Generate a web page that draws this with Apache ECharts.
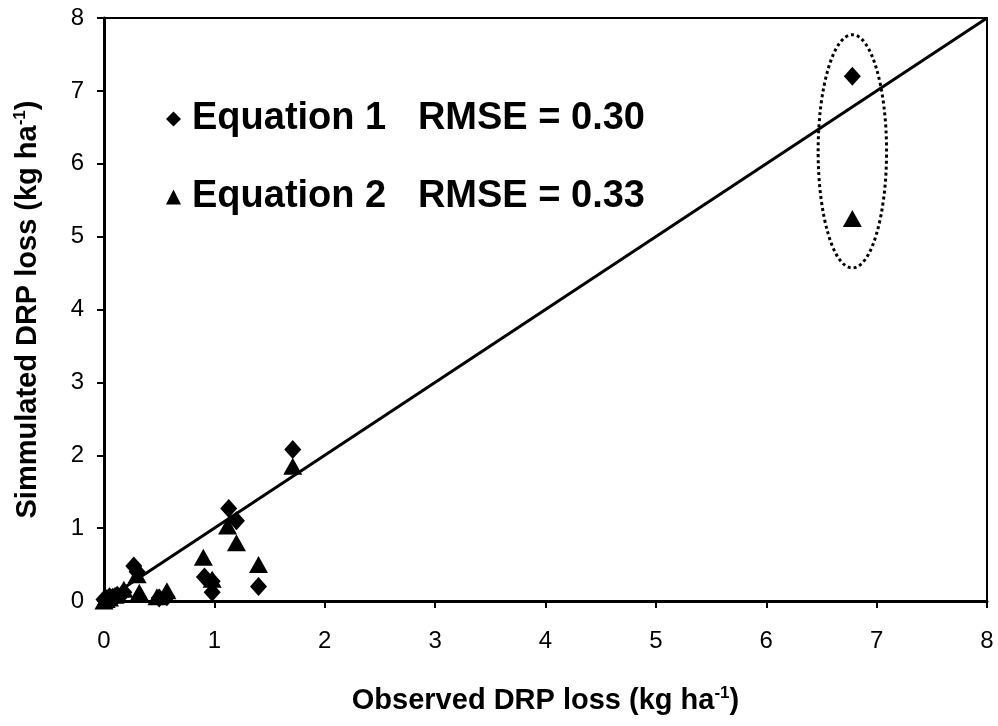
<!DOCTYPE html>
<html>
<head>
<meta charset="utf-8">
<script src="https://cdn.jsdelivr.net/npm/echarts@6/dist/echarts.min.js"></script>
<style>
  html, body { margin: 0; padding: 0; background: #fff; }
  #chart { width: 998px; height: 726px; }
</style>
</head>
<body>
<div id="chart"></div>
<script>
// observed vs simulated DRP loss
const eq1Observed = [6.78, 1.71, 1.13, 1.20, 0.27, 0.30, 0.91, 0.98, 0.98, 1.40, 0.50, 0.57, 0.12, 0.05, 0.02, 0.00, 0.08, 0.18];
const eq1Simulated = [7.20, 2.08, 1.27, 1.10, 0.48, 0.40, 0.33, 0.27, 0.12, 0.20, 0.04, 0.06, 0.08, 0.06, 0.03, 0.02, 0.05, 0.12];

const eq2Observed = [6.78, 1.71, 1.12, 1.20, 0.90, 0.98, 1.40, 0.30, 0.32, 0.48, 0.57, 0.18, 0.10, 0.05, 0.02, 0.00];
const eq2Simulated = [5.25, 1.85, 1.03, 0.80, 0.60, 0.30, 0.50, 0.36, 0.12, 0.06, 0.14, 0.16, 0.08, 0.04, 0.02, 0.00];

const seriesNames = ['Equation 1', 'Equation 2'];
const rmse = ['0.30', '0.33'];

// 1:1 line
const oneToOne = [[0, 0], [8, 8]];

// dotted ellipse around the outlying event
const outlierCenter = [6.78, 6.17];
const outlierRadius = [0.31, 1.6];

const pair = (xs, ys) => xs.map((x, i) => [x, ys[i]]);

const chart = echarts.init(document.getElementById('chart'));

const font = 'Arial, "Liberation Sans", sans-serif';

const titleRich = {
  b: { fontFamily: font, fontSize: 29, fontWeight: 'bold', color: '#000' },
  s: { fontFamily: font, fontSize: 17, fontWeight: 'bold', color: '#000', verticalAlign: 'top', padding: [0, 0, 15, 0] }
};

chart.setOption({
  animation: false,
  grid: {
    left: 104, right: 11, top: 18, bottom: 125,
    show: true, borderColor: '#000', borderWidth: 2, backgroundColor: 'transparent'
  },
  legend: {
    orient: 'vertical',
    left: 161,
    top: 95,
    itemGap: 40,
    itemWidth: 15,
    itemHeight: 15,
    data: [
      { name: seriesNames[0], icon: 'diamond' },
      { name: seriesNames[1], icon: 'triangle' }
    ],
    formatter: name => name + '   RMSE = ' + rmse[seriesNames.indexOf(name)],
    textStyle: { fontFamily: font, fontSize: 38, fontWeight: 'bold', color: '#000', padding: [0, 0, 0, 6] }
  },
  xAxis: {
    type: 'value', min: 0, max: 8, interval: 1,
    name: '{b|Observed DRP loss (kg ha}{s|-1}{b|)}',
    nameLocation: 'middle', nameGap: 84,
    nameTextStyle: { rich: titleRich },
    axisLine: { lineStyle: { color: '#000', width: 3 } },
    axisTick: { inside: false, length: 7, lineStyle: { color: '#000', width: 2 } },
    axisLabel: { fontFamily: font, fontSize: 24, color: '#000', margin: 28 },
    splitLine: { show: false }
  },
  yAxis: {
    type: 'value', min: 0, max: 8, interval: 1,
    name: '{b|Simmulated DRP loss (kg ha}{s|-1}{b|)}',
    nameLocation: 'middle', nameGap: 60,
    nameTextStyle: { rich: titleRich },
    axisLine: { lineStyle: { color: '#000', width: 3 } },
    axisTick: { inside: false, length: 7, lineStyle: { color: '#000', width: 2 } },
    axisLabel: { fontFamily: font, fontSize: 24, color: '#000', margin: 20 },
    splitLine: { show: false }
  },
  series: [
    {
      name: '1:1',
      type: 'line',
      data: oneToOne,
      symbol: 'none',
      lineStyle: { color: '#000', width: 3 },
      z: 1
    },
    {
      name: seriesNames[0],
      type: 'scatter',
      symbol: 'diamond',
      symbolSize: [17, 19],
      itemStyle: { color: '#000', opacity: 1 },
      data: pair(eq1Observed, eq1Simulated),
      z: 3
    },
    {
      name: seriesNames[1],
      type: 'scatter',
      symbol: 'triangle',
      symbolSize: [19, 17],
      itemStyle: { color: '#000', opacity: 1 },
      data: pair(eq2Observed, eq2Simulated),
      z: 3
    }
  ]
});

// ellipse annotation placed through the chart's own scales
const c = chart.convertToPixel({ gridIndex: 0 }, outlierCenter);
const e = chart.convertToPixel({ gridIndex: 0 }, [outlierCenter[0] + outlierRadius[0], outlierCenter[1] + outlierRadius[1]]);
chart.setOption({
  graphic: [{
    type: 'ellipse',
    shape: { cx: c[0], cy: c[1], rx: Math.abs(e[0] - c[0]), ry: Math.abs(c[1] - e[1]) },
    style: { fill: 'none', stroke: '#000', lineWidth: 3, lineDash: [3, 3] },
    z: 2
  }]
});
</script>
</body>
</html>
